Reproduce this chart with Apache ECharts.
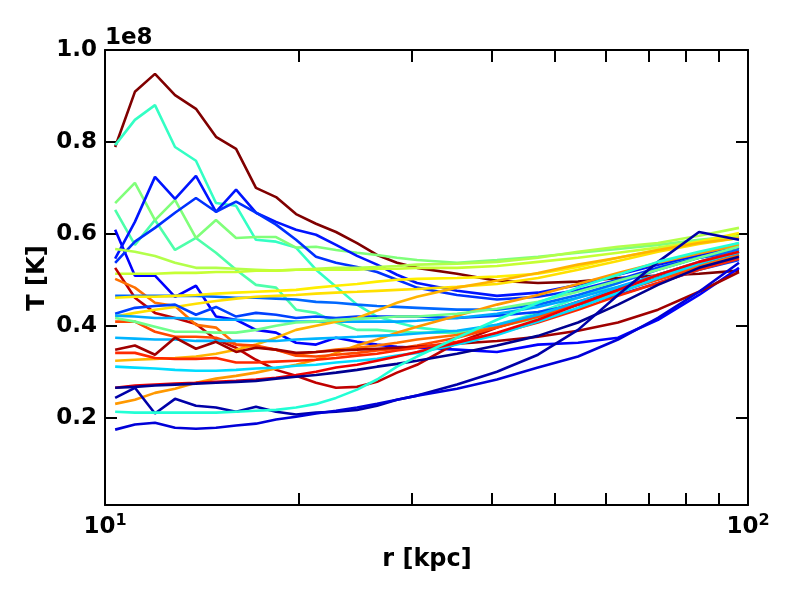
<!DOCTYPE html>
<html>
<head>
<meta charset="utf-8">
<script src="https://cdn.jsdelivr.net/npm/echarts@6/dist/echarts.min.js"></script>
<style>html,body{margin:0;padding:0;background:#fff}#c{width:800px;height:600px}</style>
</head>
<body>
<div id="c"></div>
<script>
// radius grid (kpc)
const r = [10.37,11.13,11.96,12.85,13.85,14.88,15.99,17.17,18.45,19.82,21.29,22.87,24.66,26.49,28.45,30.57,35.27,40.70,47.14,54.41,62.78,72.45,83.91,96.83];
// temperature profiles, units of 1e8 K
const T01 = [0.789,0.909,0.948,0.902,0.872,0.811,0.785,0.700,0.680,0.643,0.622,0.604,0.580,0.554,0.537,0.526,0.513,0.498,0.493,0.496,0.504,0.509,0.513,0.520];
const T02 = [0.793,0.848,0.880,0.789,0.759,0.667,0.661,0.587,0.583,0.570,0.522,0.485,0.446,0.420,0.407,0.396,0.387,0.402,0.428,0.461,0.493,0.526,0.554,0.580];
const T03 = [0.652,0.576,0.630,0.565,0.591,0.559,0.522,0.489,0.483,0.435,0.428,0.407,0.391,0.391,0.387,0.385,0.385,0.398,0.417,0.446,0.478,0.511,0.539,0.565];
const T04 = [0.667,0.711,0.630,0.674,0.591,0.630,0.591,0.593,0.593,0.570,0.572,0.565,0.559,0.554,0.548,0.543,0.537,0.543,0.550,0.559,0.567,0.576,0.587,0.596];
const T05 = [0.609,0.509,0.509,0.463,0.487,0.420,0.413,0.391,0.385,0.363,0.359,0.374,0.365,0.359,0.354,0.352,0.348,0.343,0.359,0.363,0.374,0.413,0.467,0.526];
const T06 = [0.546,0.626,0.724,0.676,0.726,0.648,0.696,0.646,0.626,0.609,0.598,0.576,0.552,0.533,0.511,0.493,0.476,0.465,0.472,0.489,0.511,0.533,0.554,0.570];
const T07 = [0.537,0.583,0.613,0.646,0.678,0.648,0.670,0.646,0.620,0.587,0.550,0.537,0.528,0.517,0.500,0.483,0.467,0.457,0.463,0.478,0.500,0.526,0.548,0.561];
const T08 = [0.567,0.561,0.552,0.537,0.526,0.526,0.524,0.522,0.520,0.522,0.524,0.526,0.526,0.528,0.530,0.533,0.535,0.539,0.548,0.561,0.572,0.580,0.596,0.613];
const T09 = [0.513,0.513,0.513,0.515,0.515,0.517,0.517,0.520,0.520,0.522,0.522,0.522,0.522,0.524,0.524,0.526,0.526,0.530,0.539,0.548,0.559,0.570,0.583,0.596];
const T10 = [0.526,0.461,0.428,0.417,0.404,0.370,0.352,0.326,0.304,0.291,0.276,0.265,0.267,0.278,0.298,0.315,0.363,0.396,0.424,0.452,0.478,0.504,0.533,0.554];
const T11 = [0.502,0.483,0.450,0.443,0.402,0.396,0.359,0.354,0.348,0.337,0.343,0.348,0.352,0.357,0.363,0.370,0.380,0.398,0.420,0.446,0.474,0.502,0.530,0.554];
const T12 = [0.465,0.465,0.465,0.465,0.465,0.463,0.461,0.461,0.459,0.457,0.452,0.450,0.446,0.443,0.441,0.439,0.435,0.435,0.446,0.467,0.493,0.522,0.548,0.565];
const T13 = [0.461,0.463,0.463,0.465,0.467,0.470,0.472,0.474,0.476,0.478,0.483,0.487,0.491,0.496,0.500,0.502,0.504,0.507,0.513,0.528,0.548,0.565,0.583,0.602];
const T14 = [0.420,0.428,0.435,0.441,0.448,0.454,0.459,0.463,0.465,0.467,0.470,0.472,0.474,0.476,0.478,0.480,0.485,0.491,0.504,0.522,0.541,0.561,0.578,0.591];
const T15 = [0.426,0.439,0.443,0.446,0.424,0.441,0.420,0.428,0.424,0.417,0.420,0.417,0.420,0.420,0.420,0.420,0.417,0.422,0.430,0.446,0.467,0.493,0.522,0.543];
const T16 = [0.422,0.420,0.417,0.417,0.415,0.413,0.413,0.411,0.411,0.409,0.409,0.409,0.409,0.409,0.409,0.411,0.417,0.426,0.441,0.461,0.485,0.511,0.537,0.559];
const T17 = [0.324,0.326,0.328,0.330,0.333,0.339,0.348,0.359,0.374,0.391,0.400,0.409,0.417,0.433,0.450,0.463,0.483,0.498,0.515,0.533,0.548,0.565,0.580,0.591];
const T18 = [0.230,0.239,0.254,0.263,0.276,0.285,0.291,0.298,0.307,0.315,0.326,0.341,0.357,0.370,0.385,0.398,0.422,0.446,0.467,0.491,0.515,0.537,0.557,0.576];
const T19 = [0.409,0.409,0.387,0.376,0.376,0.374,0.359,0.357,0.348,0.335,0.333,0.337,0.341,0.346,0.350,0.357,0.374,0.396,0.420,0.446,0.474,0.500,0.526,0.548];
const T20 = [0.417,0.409,0.398,0.387,0.387,0.385,0.385,0.391,0.400,0.407,0.409,0.413,0.415,0.417,0.420,0.420,0.426,0.437,0.452,0.474,0.498,0.522,0.548,0.572];
const T21 = [0.374,0.372,0.370,0.370,0.367,0.367,0.367,0.367,0.367,0.370,0.372,0.374,0.376,0.378,0.380,0.383,0.389,0.402,0.424,0.452,0.483,0.511,0.539,0.561];
const T22 = [0.348,0.357,0.337,0.374,0.350,0.365,0.343,0.352,0.348,0.341,0.343,0.346,0.348,0.350,0.352,0.354,0.361,0.367,0.376,0.389,0.407,0.435,0.474,0.517];
const T23 = [0.341,0.341,0.330,0.328,0.328,0.330,0.320,0.320,0.322,0.324,0.326,0.330,0.335,0.339,0.346,0.352,0.365,0.383,0.407,0.435,0.465,0.493,0.522,0.546];
const T24 = [0.311,0.309,0.307,0.304,0.302,0.302,0.304,0.307,0.309,0.313,0.315,0.320,0.324,0.328,0.335,0.341,0.359,0.380,0.409,0.439,0.472,0.504,0.535,0.561];
const T25 = [0.265,0.270,0.272,0.274,0.276,0.278,0.280,0.283,0.287,0.293,0.300,0.309,0.315,0.324,0.333,0.343,0.363,0.385,0.413,0.446,0.478,0.511,0.539,0.561];
const T26 = [0.265,0.267,0.270,0.272,0.274,0.276,0.278,0.280,0.285,0.289,0.293,0.298,0.304,0.311,0.317,0.324,0.339,0.357,0.378,0.407,0.446,0.489,0.526,0.550];
const T27 = [0.243,0.265,0.209,0.241,0.226,0.222,0.213,0.224,0.213,0.207,0.211,0.213,0.217,0.226,0.239,0.248,0.272,0.300,0.337,0.391,0.467,0.539,0.604,0.587];
const T28 = [0.174,0.185,0.189,0.178,0.176,0.178,0.183,0.187,0.196,0.202,0.209,0.215,0.222,0.230,0.239,0.248,0.263,0.283,0.309,0.333,0.370,0.417,0.474,0.537];
const T29 = [0.213,0.211,0.211,0.211,0.211,0.211,0.213,0.215,0.217,0.222,0.230,0.243,0.261,0.283,0.311,0.333,0.374,0.413,0.450,0.483,0.511,0.539,0.561,0.580];

const profiles = [T01,T02,T03,T04,T05,T06,T07,T08,T09,T10,T11,T12,T13,T14,T15,T16,T17,T18,T19,T20,T21,T22,T23,T24,T25,T26,T27,T28,T29];
const colors = ['#800000','#33ffc4','#4dffaa','#80ff7a','#0000ff','#0014ff','#0030ff','#b3ff4a','#c6ff33','#c00000',
                '#ff7000','#0068ff','#ffee00','#ffe000','#0040ff','#00a8ff','#ffb400','#ff9800','#ff4800','#70ff8c',
                '#00b4ff','#a00000','#ff2800','#00dcff','#f00000','#000090','#0000a8','#0000d8','#22ffd5'];

const xTicks = [10,20,30,40,50,60,70,80,90,100];
const xLabels = [10,100];
const yTicks = [0.2,0.4,0.6,0.8,1.0];

const FONT = 'DejaVu Sans';
const chart = echarts.init(document.getElementById('c'), null, {renderer:'canvas'});

const axisLineStyle = {show:true, lineStyle:{color:'#000', width:2}};
function xAx(pos, showLabel){
  return {
    type:'log', logBase:10, min:10, max:100, position:pos, gridIndex:0,
    axisLine: axisLineStyle,
    axisTick:{show:true, inside:true, length:12, customValues:xTicks, lineStyle:{color:'#000', width:2}},
    minorTick:{show:false},
    splitLine:{show:false},
    axisLabel:{show:showLabel, customValues:xLabels, margin:8,
      formatter: v => '{b|10}{s|' + Math.round(Math.log10(v)) + '}',
      rich:{ b:{fontFamily:FONT, fontWeight:'bold', fontSize:23, color:'#000', lineHeight:28},
             s:{fontFamily:FONT, fontWeight:'bold', fontSize:16, color:'#000', verticalAlign:'top', lineHeight:16} }
    }
  };
}
function yAx(pos, showLabel){
  return {
    type:'value', min:0.01, max:1.0, position:pos, gridIndex:0,
    axisLine: axisLineStyle,
    axisTick:{show:true, inside:true, length:12, customValues:yTicks, lineStyle:{color:'#000', width:2}},
    splitLine:{show:false},
    axisLabel:{show:showLabel, customValues:yTicks, margin:8, formatter: v => v.toFixed(1),
      fontFamily:FONT, fontWeight:'bold', fontSize:23, color:'#000'}
  };
}

const series = profiles.map((vals, i) => ({
  type:'line', xAxisIndex:0, yAxisIndex:0,
  data: r.map((x, j) => [x, vals[j]]),
  showSymbol:false, symbol:'none', silent:true,
  lineStyle:{color:colors[i], width:2.6},
  z: 2
}));

chart.setOption({
  animation:false,
  backgroundColor:'#fff',
  grid:{left:105, right:52, top:50, bottom:95, containLabel:false},
  xAxis:[xAx('bottom', true), xAx('top', false)],
  yAxis:[yAx('left', true), yAx('right', false)],
  series: series,
  graphic:[
    {type:'text', left:105, top:27, style:{text:'1e8', font:'bold 23px "DejaVu Sans"', fill:'#000'}},
    {type:'text', x:427, y:560, style:{text:'r [kpc]', font:'bold 24px "DejaVu Sans"', fill:'#000', align:'center', verticalAlign:'middle'}},
    {type:'text', x:38, y:278, rotation:Math.PI/2, style:{text:'T [K]', font:'bold 24px "DejaVu Sans"', fill:'#000', align:'center', verticalAlign:'middle'}}
  ]
});
</script>
</body>
</html>
